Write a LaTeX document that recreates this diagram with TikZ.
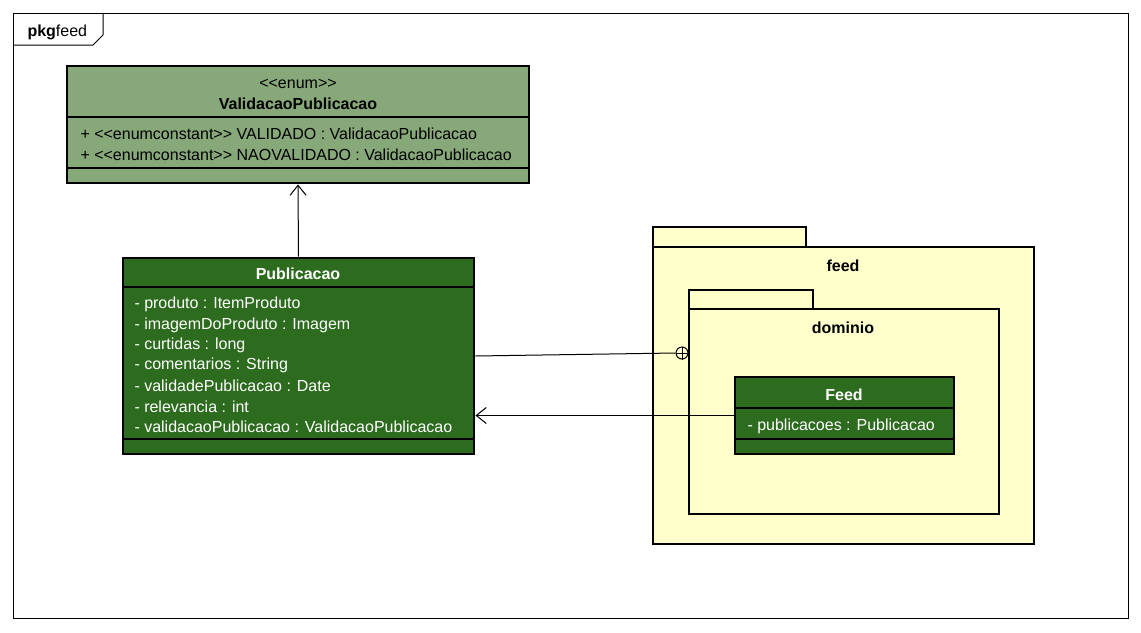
\documentclass[tikz,border=0pt]{standalone}
\usepackage{fontspec}
\newfontfamily\umlfont{Liberation Sans}
\usetikzlibrary{arrows.meta,fit}
\definecolor{enumgreen}{RGB}{135,168,120}
\definecolor{classgreen}{RGB}{45,108,30}
\definecolor{pkgyellow}{RGB}{255,255,204}
\begin{document}
\begin{tikzpicture}[x=.75pt,y=-.75pt,line width=.75pt,font=\umlfont\fontsize{12}{14}\selectfont,
  box/.style={draw,line width=2.2pt,inner sep=0pt},
  sep/.style={line width=.8pt},
  attr/.style={anchor=west,inner sep=0pt},
  open/.style={-{Straight Barb[length=7.5pt,width=12pt]}}]
\useasboundingbox (0,0) rectangle (1141,632);
\draw (13,13) rectangle (1128,618);
\draw (13,45) -- (93,45) -- (103,35) -- (103,13);
\node[anchor=west,inner sep=0pt] (frame) at (27,32) {\textbf{pkg}feed};
% enum
\node[box,fill=enumgreen,fit={(67,66)(529,183)}] (enum) {};
\node (enumst) at (298,84) {<<enum>>};
\node (enumname) at (298,104) {\bfseries ValidacaoPublicacao};
\draw[sep] (67,117) -- (529,117) (67,168) -- (529,168);
\node[attr] (lit1) at (80,134) {+ <<enumconstant>> VALIDADO : ValidacaoPublicacao};
\node[attr] (lit2) at (80,155) {+ <<enumconstant>> NAOVALIDADO : ValidacaoPublicacao};
% Publicacao
\node[box,fill=classgreen,fit={(123,258)(474,454)}] (pub) {};
\node[white] (pubname) at (298,274) {\bfseries Publicacao};
\draw[sep] (123,287) -- (474,287) (123,439) -- (474,439);
\foreach \t [count=\i] in {{- produto : ItemProduto},{- imagemDoProduto : Imagem},
  {- curtidas : long},{- comentarios : String},{- validadePublicacao : Date},
  {- relevancia : int},{- validacaoPublicacao : ValidacaoPublicacao}}
  \node[attr,white] (pa\i) at (134,284.5+20.3*\i) {\t};
% packages
\node[box,fill=pkgyellow,fit={(653,227)(806,247)}] (feedtab) {};
\node[box,fill=pkgyellow,fit={(653,247)(1034,544)}] (feedpkg) {};
\node (feedname) at (843,266) {\bfseries feed};
\node[box,fill=pkgyellow,fit={(689,290)(813,309)}] (domtab) {};
\node[box,fill=pkgyellow,fit={(689,309)(999,514)}] (dompkg) {};
\node (domname) at (843,328) {\bfseries dominio};
% Feed
\node[box,fill=classgreen,fit={(735,377)(954,454)}] (feedcls) {};
\node[white] (feedclsname) at (844,395) {\bfseries Feed};
\draw[sep] (735,408) -- (954,408) (735,439) -- (954,439);
\node[attr,white] (fa1) at (747,426) {- publicacoes : Publicacao};
% links
\node[circle,draw,inner sep=0pt,minimum size=9pt] (nest) at (682,353) {};
\draw (nest.north) -- (nest.south) (nest.west) -- (nest.east);
\draw (pub.east) -- (nest.west);
\draw[open] (feedcls.west) -- (feedcls.west -| pub.east);
\draw[open] (pub.north) -- (enum.south);
\end{tikzpicture}
\end{document}
